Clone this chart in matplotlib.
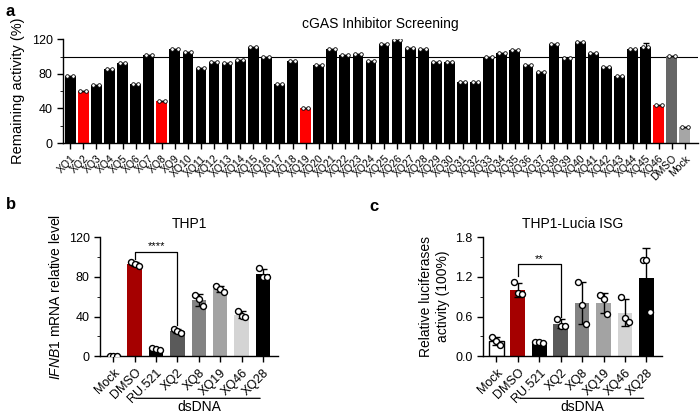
import numpy as np
import matplotlib
matplotlib.use('Agg')
import matplotlib.pyplot as plt

plt.rcParams['font.family'] = ['Liberation Sans', 'DejaVu Sans']
plt.rcParams['mathtext.fontset'] = 'custom'
plt.rcParams['mathtext.rm'] = 'Liberation Sans'
plt.rcParams['mathtext.it'] = 'Liberation Sans:italic'
plt.rcParams['axes.linewidth'] = 1.0
plt.rcParams['xtick.major.width'] = 1.0
plt.rcParams['ytick.major.width'] = 1.0

# ---- panel a: screening ----
screen_names = ['XQ%d' % i for i in range(1, 47)] + ['DMSO', 'Mock']
screen_values = [77, 60, 67, 85, 93, 68, 102, 49, 109, 105,
                 87, 94, 93, 96, 111, 99, 68, 95, 40, 90,
                 109, 102, 103, 95, 115, 119, 110, 109, 94, 94,
                 71, 71, 99, 104, 107, 90, 82, 114, 98, 117,
                 104, 88, 78, 109, 111, 44, 101, 18]
screen_err = [0] * 44 + [5, 0, 0, 0]
screen_hits = ['XQ2', 'XQ8', 'XQ19', 'XQ46']

# ---- panels b, c ----
groups = ['Mock', 'DMSO', 'RU.521', 'XQ2', 'XQ8', 'XQ19', 'XQ46', 'XQ28']
group_colors = ['white', '#a50000', 'black', '#5a5a5a', '#838383',
                '#a3a3a3', '#d4d4d4', 'black']

ifnb1_points = [
    [0.5, 0.4, 0.6],
    [95, 93, 91],
    [8.4, 6.7, 5.7],
    [27.6, 25.6, 23.6],
    [62, 57.6, 50.5],
    [71, 68, 64.4],
    [45.8, 40.4, 39],
    [89, 80, 80],
]

lucia_points = [
    [0.29, 0.23, 0.17],
    [1.12, 0.95, 0.94],
    [0.21, 0.21, 0.20],
    [0.565, 0.45, 0.45],
    [1.13, 0.78, 0.49],
    [0.93, 0.86, 0.64],
    [0.89, 0.57, 0.51],
    [1.45, 1.45, 0.67],
]

fig = plt.figure(figsize=(7.0, 4.17), dpi=100)


def style_axes(ax):
    ax.spines['top'].set_visible(False)
    ax.spines['right'].set_visible(False)
    ax.tick_params(direction='out', length=4, labelsize=9)


# panel a
ax_a = fig.add_axes([0.09, 0.657, 0.907, 0.249])
xa = np.arange(len(screen_names))
cols_a = []
for n in screen_names:
    if n in screen_hits:
        cols_a.append('#ff0000')
    elif n == 'DMSO':
        cols_a.append('#666666')
    elif n == 'Mock':
        cols_a.append('#a6a6a6')
    else:
        cols_a.append('black')
ax_a.bar(xa, screen_values, width=0.82, color=cols_a, zorder=2)
ax_a.errorbar(xa, screen_values, yerr=screen_err, fmt='none', ecolor='black',
              elinewidth=0.8, capsize=2, zorder=3)
for off in (-0.22, 0.22):
    ax_a.plot(xa + off, screen_values, 'o', ms=2.6, mfc='white', mec='black',
              mew=0.6, zorder=4)
ax_a.axhline(100, color='black', lw=0.8, zorder=1)
ax_a.set_xlim(-0.55, len(screen_names))
ax_a.set_ylim(0, 120)
ax_a.set_yticks([0, 40, 80, 120])
ax_a.set_yticks([20, 60, 100], minor=True)
ax_a.tick_params(axis='y', which='minor', length=2.5)
ax_a.set_xticks(xa)
ax_a.set_xticklabels(screen_names, rotation=45, ha='right',
                     rotation_mode='anchor')
style_axes(ax_a)
ax_a.tick_params(axis='x', labelsize=7.5)
ax_a.set_ylabel('Remaining activity (%)', fontsize=10.5, labelpad=5)
ax_a.set_title('cGAS Inhibitor Screening', fontsize=10, pad=8)
fig.text(0.008, 0.972, 'a', fontsize=12, fontweight='bold', va='center')


def group_panel(ax, points, ylim, yticks, title, ylabel, stars, bracket):
    x = np.arange(len(groups))
    pts = [np.array(p) for p in points]
    means = [p.mean() for p in pts]
    sds = [p.std(ddof=1) for p in pts]
    ax.bar(x, means, width=0.68, color=group_colors, edgecolor='black',
           linewidth=[1.0 if c == 'white' else 0 for c in group_colors],
           zorder=2)
    ax.errorbar(x, means, yerr=sds, fmt='none', ecolor='black',
                elinewidth=1.0, capsize=3, capthick=1.0, zorder=3)
    offs = [-0.18, 0.0, 0.18]
    for i, p in enumerate(pts):
        ax.plot(x[i] + np.array(offs), p, 'o', ms=4.3, mfc='white',
                mec='black', mew=1.0, zorder=4)
    ax.set_xlim(-0.62, len(groups) - 0.3)
    ax.set_ylim(*ylim)
    ax.set_yticks(yticks)
    ax.set_yticks([(a + b) / 2 for a, b in zip(yticks[:-1], yticks[1:])],
                  minor=True)
    ax.tick_params(axis='y', which='minor', length=2.5)
    ax.set_xticks(x)
    ax.set_xticklabels(groups, rotation=45, ha='right',
                       rotation_mode='anchor')
    style_axes(ax)
    ax.set_title(title, fontsize=10, pad=7)
    ax.set_ylabel(ylabel, fontsize=10)
    # significance bracket DMSO vs XQ2
    top, left_low, right_low, star_y = bracket
    ax.plot([1, 1, 3, 3], [left_low, top, top, right_low], color='black',
            lw=0.9, zorder=5)
    ax.text(2, star_y, stars, ha='center', va='center', fontsize=8)
    # dsDNA underline
    ax.annotate('', xy=(7, -0.355), xytext=(1, -0.355),
                xycoords=('data', 'axes fraction'),
                arrowprops=dict(arrowstyle='-', lw=0.9, color='black'),
                annotation_clip=False)
    ax.text(4, -0.37, 'dsDNA', transform=ax.get_xaxis_transform(),
            ha='center', va='top', fontsize=10)


ax_b = fig.add_axes([0.143, 0.146, 0.254, 0.285])
group_panel(ax_b, ifnb1_points, (0, 120), [0, 40, 80, 120], 'THP1',
            r'$\mathit{IFNB1}$ mRNA relative level', '****',
            (105, 98, 31, 111))
fig.text(0.008, 0.51, 'b', fontsize=12, fontweight='bold', va='center')

ax_c = fig.add_axes([0.69, 0.146, 0.255, 0.285])
group_panel(ax_c, lucia_points, (0, 1.8), [0.0, 0.6, 1.2, 1.8],
            'THP1-Lucia ISG', 'Relative luciferases\nactivity (100%)', '**',
            (1.39, 1.21, 0.6, 1.47))
ax_c.set_yticklabels(['0.0', '0.6', '1.2', '1.8'])
fig.text(0.527, 0.505, 'c', fontsize=12, fontweight='bold', va='center')

fig.savefig('out.png', dpi=100)
